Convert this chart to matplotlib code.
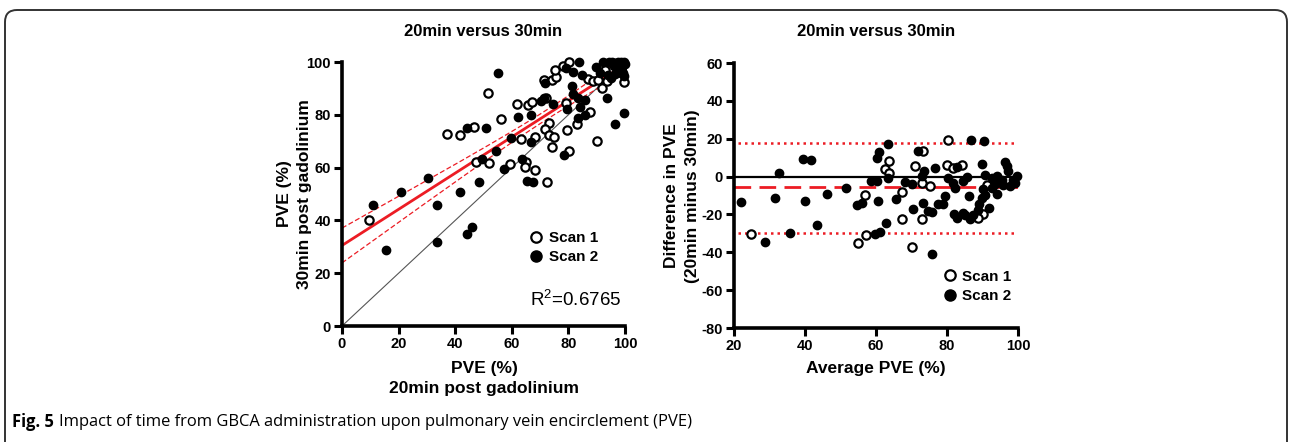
import matplotlib
matplotlib.use('Agg')
import matplotlib.pyplot as plt
import numpy as np
from matplotlib import font_manager
from matplotlib.lines import Line2D
from matplotlib.patches import FancyBboxPatch
from matplotlib.transforms import IdentityTransform

# ---- left panel: PVE at 20min (x) vs 30min (y) ----
s1_x20 = [9.5, 47.3, 52.0, 51.6, 37.1, 41.7, 46.6, 56.2, 63.3, 61.8, 65.7, 67.1, 72.1, 79.2, 87.6,
          83.0, 79.5, 73.1, 71.7, 73.1, 74.9, 68.2, 74.2, 90.1, 91.9, 80.2, 65.0, 59.4, 64.7, 68.2,
          72.4, 71.4, 74.2, 75.6, 75.3, 78.1, 80.2, 86.9, 88.7, 92.9, 90.5, 99.8, 98.6, 93.6]
s1_y30 = [40.0, 62.0, 61.7, 88.3, 72.7, 72.3, 75.4, 78.4, 70.8, 84.0, 83.7, 84.8, 86.4, 84.5, 81.0,
          76.5, 74.2, 76.9, 74.6, 72.3, 71.6, 71.6, 67.8, 70.0, 90.0, 66.3, 62.0, 61.4, 60.2, 59.1,
          54.5, 93.2, 93.2, 94.3, 97.0, 98.5, 100.0, 93.6, 92.8, 97.0, 93.2, 92.4, 97.3, 92.8]
s2_x20 = [11.0, 15.5, 33.6, 33.6, 44.0, 46.0, 20.8, 30.4, 41.7, 49.5, 48.4, 54.4, 55.0, 44.2, 50.9,
          59.7, 62.2, 66.8, 70.3, 71.4, 74.6, 79.5, 81.3, 81.6, 83.4, 85.9, 84.1, 85.9, 83.4, 66.8,
          96.5, 99.5, 93.6, 78.4, 63.6, 57.2, 65.4, 67.5, 71.7, 79.2, 83.7, 81.6, 84.8, 89.8, 92.2,
          94.0, 95.0, 91.2, 99.3, 99.8, 94.5, 95.5, 96.5, 97.5, 98.5, 99.5, 100.0, 96.0, 98.0, 99.0,
          97.0, 96.5, 98.5]
s2_y30 = [45.8, 28.8, 46.0, 32.0, 35.0, 37.5, 50.8, 56.0, 50.8, 63.3, 54.5, 66.3, 95.8, 75.0, 75.0,
          71.2, 79.2, 80.0, 85.2, 86.4, 84.0, 82.2, 90.9, 87.9, 86.4, 85.6, 83.0, 80.0, 78.8, 69.7,
          76.5, 80.7, 86.4, 64.8, 63.3, 59.5, 54.9, 54.5, 92.0, 97.7, 100.0, 96.2, 95.0, 98.1, 100.0,
          95.0, 94.0, 95.8, 95.8, 94.7, 100.0, 100.0, 99.6, 100.0, 100.0, 100.0, 99.3, 98.5, 99.0, 98.0,
          97.0, 95.5, 96.0]

# regression
fit_intercept = 30.5
fit_slope = 0.685
ci_half_at0 = 6.6
ci_half_min = 1.8
ci_xmean = 72.0
r2_text = r'R$^{\mathrm{2}}$=0.6765'

# ---- right panel: Bland-Altman ----
s1_avg = [24.9, 63.8, 62.5, 63.8, 56.9, 67.2, 71.0, 73.3, 73.0, 75.2, 67.2, 73.0, 57.1, 55.0, 70.0,
          80.4, 79.9, 81.6, 84.1, 91.2, 90.0, 88.8]
s1_diff = [-30.5, 8.4, 4.2, 1.9, -9.8, -8.2, 5.4, 13.3, -3.3, -5.1, -22.3, -22.6, -31.0, -35.3, -37.0,
           19.5, 6.0, 4.6, 6.0, -4.2, -19.6, -21.7]
s2_avg = [22.1, 28.6, 32.7, 31.6, 35.8, 39.5, 41.8, 40.0, 43.3, 46.2, 51.5, 63.5, 60.9, 60.2, 63.5,
          58.6, 60.2, 54.7, 56.1, 60.6, 65.5, 68.2, 70.0, 71.9, 73.6, 73.0, 76.6, 70.5, 73.3, 74.7,
          62.8, 61.1, 59.7, 75.7, 86.7, 90.4, 82.7, 89.8, 96.3, 96.8, 97.3, 99.6, 98.7, 80.4, 81.8,
          82.3, 84.6, 85.5, 90.7, 92.6, 94.0, 95.4, 93.5, 92.6, 95.9, 97.7, 99.2, 90.2, 94.0, 90.7,
          89.8, 86.3, 79.4, 78.9, 77.5, 75.7, 89.1, 91.9, 88.8, 82.0, 82.7, 84.4, 85.1, 86.5, 87.4]
s2_diff = [-13.3, -34.6, 1.7, -11.2, -29.6, 9.1, 8.6, -13.0, -25.6, -9.1, -6.3, 17.2, 13.0, 9.8, -0.7,
           -2.1, -2.1, -15.1, -14.0, -13.0, -11.6, -3.0, -3.9, 13.3, 2.8, 0.2, 4.6, -17.0, -13.8, -18.2,
           -24.4, -29.1, -30.5, -41.0, 19.5, 18.9, 4.9, 6.7, 7.7, 5.4, 2.8, 0.2, -1.6, -0.7, -3.3,
           -6.0, -2.4, -0.4, 1.0, -0.7, 0.2, -1.6, -3.9, -6.0, -4.2, -5.1, -3.3, -6.8, -9.1, -9.5,
           -11.2, -10.0, -10.0, -14.7, -14.7, -18.6, -14.7, -16.5, -17.4, -20.0, -21.7, -19.1, -20.4, -22.3, -20.4]
mean_diff = -5.6
loa_upper = 17.9
loa_lower = -29.8

title = '20min versus 30min'
caption_bold = 'Fig. 5'
caption_rest = 'Impact of time from GBCA administration upon pulmonary vein encirclement (PVE)'

RED = '#ec1c24'
W, H = 1292, 442


def has_font(name):
    try:
        font_manager.findfont(font_manager.FontProperties(family=name), fallback_to_default=False)
        return True
    except Exception:
        return False


base = 'Liberation Sans'
narrow = 'Liberation Sans Narrow' if has_font('Liberation Sans Narrow') else base
title_size = 14 if narrow != base else 12
plt.rcParams['font.family'] = [base, 'DejaVu Sans']
plt.rcParams['axes.unicode_minus'] = False
plt.rcParams['mathtext.fontset'] = 'custom'
plt.rcParams['mathtext.rm'] = base

fig = plt.figure(figsize=(W / 100, H / 100), dpi=100)


def fx(px):
    return px / W


def fy(py):
    return 1 - py / H


def style_axes(ax):
    for s in ['top', 'right']:
        ax.spines[s].set_visible(False)
    for s in ['left', 'bottom']:
        ax.spines[s].set_linewidth(2.6)
    ax.tick_params(direction='out', length=6, width=2.2, pad=2, labelsize=10.5)
    for lab in ax.get_xticklabels() + ax.get_yticklabels():
        lab.set_fontweight('bold')


ax1 = fig.add_axes([fx(342), fy(326), (625 - 342) / W, (326 - 62) / H])
ax1.set_xlim(0, 100)
ax1.set_ylim(0, 100)
ax1.set_xticks(np.arange(0, 101, 20))
ax1.set_yticks(np.arange(0, 101, 20))
style_axes(ax1)

ax1.plot([0, 100], [0, 100], color='#555555', lw=0.8, zorder=1)
xx = np.linspace(0, 100, 200)
yy = fit_intercept + fit_slope * xx
hw = np.sqrt(ci_half_min ** 2 + (ci_half_at0 ** 2 - ci_half_min ** 2) * ((xx - ci_xmean) / ci_xmean) ** 2)
ax1.plot(xx, yy, color=RED, lw=2.0, zorder=2)
ax1.plot(xx, yy + hw, color=RED, lw=0.9, ls=(0, (4, 2)), zorder=2)
ax1.plot(xx, yy - hw, color=RED, lw=0.9, ls=(0, (4, 2)), zorder=2)

ax1.scatter(s1_x20, s1_y30, s=36, facecolors='white', edgecolors='black', linewidths=1.6, zorder=3, clip_on=False)
ax1.scatter(s2_x20, s2_y30, s=36, color='black', zorder=4, clip_on=False)
ax1.text(0.985, 0.06, r2_text, transform=ax1.transAxes, ha='right', va='bottom', fontsize=13.5)

handles = [Line2D([], [], ls='none', marker='o', ms=7.5, mfc='white', mec='black', mew=1.6),
           Line2D([], [], ls='none', marker='o', ms=8, mfc='black', mec='black')]
leg_kw = dict(frameon=False, handlelength=0.8, handletextpad=0.4, labelspacing=0.35, borderpad=0,
              borderaxespad=0, prop={'family': base, 'weight': 'bold', 'size': 11})
ax1.legend(handles, ['Scan 1', 'Scan 2'], loc='upper left', bbox_to_anchor=(0.665, 0.36), **leg_kw)

ax2 = fig.add_axes([fx(734), fy(328), (1018 - 734) / W, (328 - 63) / H])
ax2.set_xlim(20, 100)
ax2.set_ylim(-80, 60)
ax2.set_xticks(np.arange(20, 101, 20))
ax2.set_yticks(np.arange(-80, 61, 20))
style_axes(ax2)

ax2.axhline(0, color='black', lw=1.6, zorder=1)
ax2.axhline(mean_diff, color=RED, lw=2.0, ls=(0, (6, 3)), zorder=1)
ax2.plot([21, 99.5], [loa_upper, loa_upper], color=RED, lw=1.8, ls=(0, (1, 1.6)), zorder=1)
ax2.plot([21, 99.5], [loa_lower, loa_lower], color=RED, lw=1.8, ls=(0, (1, 1.6)), zorder=1)
ax2.scatter(s1_avg, s1_diff, s=36, facecolors='white', edgecolors='black', linewidths=1.6, zorder=3, clip_on=False)
ax2.scatter(s2_avg, s2_diff, s=36, color='black', zorder=4, clip_on=False)
ax2.legend(handles, ['Scan 1', 'Scan 2'], loc='upper left', bbox_to_anchor=(0.74, 0.22), **leg_kw)

# titles and axis labels
tkw = dict(family=[narrow, base], weight='bold', size=title_size, ha='center', va='center')
fig.text(fx(483), fy(32), title, **tkw)
fig.text(fx(876), fy(32), title, **tkw)

lkw = dict(weight='bold', size=12.5, ha='center', va='center')
fig.text(fx(285), fy(194), 'PVE (%)', rotation=90, **lkw)
fig.text(fx(305), fy(194), '30min post gadolinium', rotation=90, **lkw)
fig.text(fx(484), fy(368), 'PVE (%)', **lkw)
fig.text(fx(484), fy(388), '20min post gadolinium', **lkw)
fig.text(fx(672), fy(196), 'Difference in PVE', rotation=90, **lkw)
fig.text(fx(692), fy(196), '(20min minus 30min)', rotation=90, **lkw)
fig.text(fx(876), fy(369), 'Average PVE (%)', **lkw)

# caption
cap_font = ['Open Sans', base]
t1 = fig.text(fx(12), fy(422), caption_bold, family=cap_font, weight='bold', size=11.9, ha='left', va='center')
renderer = fig.canvas.get_renderer()
bb = t1.get_window_extent(renderer=renderer)
fig.text((bb.x1 + 5) / W, fy(422), caption_rest, family=cap_font, size=11.9, ha='left', va='center')

# rounded frame around the figure
frame = FancyBboxPatch((5, -30), 1282, 442 - 10 + 30, boxstyle='round,pad=0,rounding_size=12',
                       transform=IdentityTransform(), fill=False, edgecolor='#333333', lw=1.4)
fig.patches.append(frame)

fig.savefig('out.png', dpi=100)
